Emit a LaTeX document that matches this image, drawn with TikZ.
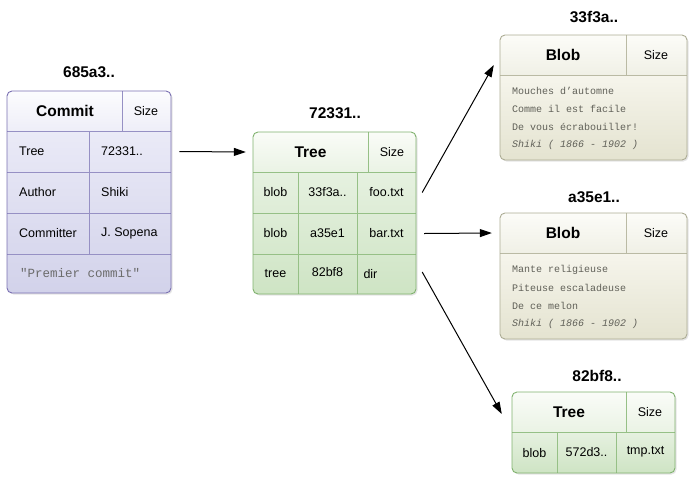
\documentclass[tikz,border=0pt]{standalone}
\usepackage{fontspec}
\setmainfont{Liberation Sans}
\setmonofont{Liberation Mono}
\definecolor{commitedge}{RGB}{122,112,178}
\definecolor{commitgrid}{RGB}{150,144,196}
\definecolor{commithdA}{RGB}{252,252,254}
\definecolor{commithdB}{RGB}{238,238,248}
\definecolor{commitbdA}{RGB}{234,234,247}
\definecolor{commitbdB}{RGB}{210,210,234}
\definecolor{treeedge}{RGB}{128,178,110}
\definecolor{treegrid}{RGB}{150,192,134}
\definecolor{treehdA}{RGB}{250,252,248}
\definecolor{treehdB}{RGB}{234,243,228}
\definecolor{treebdA}{RGB}{230,241,224}
\definecolor{treebdB}{RGB}{206,228,196}
\definecolor{blobedge}{RGB}{172,172,148}
\definecolor{blobgrid}{RGB}{186,186,164}
\definecolor{blobhdA}{RGB}{252,252,248}
\definecolor{blobhdB}{RGB}{240,240,230}
\definecolor{blobbdA}{RGB}{246,245,236}
\definecolor{blobbdB}{RGB}{228,227,208}
\definecolor{poemgray}{RGB}{96,96,88}
\usepackage{tikz}
\usetikzlibrary{arrows.meta,calc}
\tikzset{
  hashlbl/.style={font=\fontsize{15.5}{17}\selectfont\bfseries, inner sep=0pt},
  headtxt/.style={font=\fontsize{15.5}{17}\selectfont\bfseries, inner sep=0pt},
  celltxt/.style={font=\fontsize{12.5}{14}\selectfont, inner sep=0pt},
  poem/.style={font=\ttfamily\fontsize{10}{12}\selectfont, text=poemgray, anchor=west, inner sep=0pt},
  link/.style={-{Triangle[length=12pt,width=8pt]}, line width=1pt},
  shadowbox/.style={fill=black!10, rounded corners=5pt},
  commitframe/.style={draw=commitedge, rounded corners=5pt, line width=0.9pt},
  treeframe/.style={draw=treeedge, rounded corners=5pt, line width=0.9pt},
  blobframe/.style={draw=blobedge, rounded corners=5pt, line width=0.9pt},
}

\begin{document}
\begin{tikzpicture}[x=1pt,y=-1pt]
        \useasboundingbox (0,0) rectangle (693,483);
        % commit 685a3..
        \fill[shadowbox] (8.5,92.5) rectangle (172.5,294.5);
        \begin{scope}
          \clip[rounded corners=5pt] (7,91) rectangle (171,293);
          \shade[top color=commithdA, bottom color=commithdB] (7,91) rectangle (171,131);
          \shade[top color=commitbdA, bottom color=commitbdB] (7,131) rectangle (171,293);
        \end{scope}
        \draw[commitgrid] (7,131) -- (171,131) (7,172) -- (171,172) (7,213) -- (171,213) (7,254) -- (171,254);
        \draw[commitgrid] (122,91) -- (122,131) (89,131) -- (89,254);
        \draw[commitframe] (7,91) rectangle (171,293);
        \node[hashlbl] (commitid) at (89,72) {685a3..};
        \node[headtxt] (chead) at (65,111) {Commit};
        \node[celltxt] (csize) at (146,111) {Size};
        \node[celltxt,anchor=west] (ctree) at (19,151.5) {Tree};
        \node[celltxt,anchor=west] (cauthor) at (19,192.5) {Author};
        \node[celltxt,anchor=west] (ccommitter) at (19,233.5) {Committer};
        \node[celltxt,anchor=west,text width=70pt,align=left] (ctreeval) at (101,151.5) {72331..};
        \node[celltxt,anchor=west] (cauthorval) at (101,192.5) {Shiki};
        \node[celltxt,anchor=west] (ccommitterval) at (101,233.5) {J. Sopena};
        \node[poem,font=\ttfamily\fontsize{12.5}{14}\selectfont,text=black!58] (cmsg) at (20,273) {"Premier commit"};
        % tree 72331..
        \fill[shadowbox] (254.5,133.5) rectangle (417.5,295.5);
        \begin{scope}
          \clip[rounded corners=5pt] (253,132) rectangle (416,294);
          \shade[top color=treehdA, bottom color=treehdB] (253,132) rectangle (416,172);
          \shade[top color=treebdA, bottom color=treebdB] (253,172) rectangle (416,294);
        \end{scope}
        \draw[treegrid] (253,172) -- (416,172) (253,213) -- (416,213) (253,254) -- (416,254);
        \draw[treegrid] (368,132) -- (368,172) (298,172) -- (298,294) (357,172) -- (357,294);
        \draw[treeframe] (253,132) rectangle (416,294);
        \node[hashlbl] (treeid) at (335,113) {72331..};
        \node[headtxt,minimum width=115pt,minimum height=40pt] (thead) at (310.5,152) {Tree};
        \node[celltxt] (tsize) at (392,152) {Size};
        \node[celltxt] (r1c1) at (275.5,192.5) {blob};
        \node[celltxt] (r1c2) at (327.5,192) {33f3a..};
        \node[celltxt,minimum width=59pt] (r1c3) at (386.5,192.5) {foo.txt};
        \node[celltxt] (r2c1) at (275.5,233.5) {blob};
        \node[celltxt] (r2c2) at (327.5,233) {a35e1};
        \node[celltxt,minimum width=59pt] (r2c3) at (386.5,233.5) {bar.txt};
        \node[celltxt] (r3c1) at (275.5,274) {tree};
        \node[celltxt] (r3c2) at (327.5,272) {82bf8};
        \node[celltxt,minimum width=59pt,text width=46pt,align=left] (r3c3) at (386.5,274) {dir};
        % blob 33f3a..
        \fill[shadowbox] (501.5,36.5) rectangle (688.5,161.5);
        \begin{scope}
          \clip[rounded corners=5pt] (500,35) rectangle (687,160);
          \shade[top color=blobhdA, bottom color=blobhdB] (500,35) rectangle (687,75);
          \shade[top color=blobbdA, bottom color=blobbdB] (500,75) rectangle (687,160);
        \end{scope}
        \draw[blobgrid] (500,75) -- (687,75) (626,35) -- (626,75);
        \draw[blobframe] (500,35) rectangle (687,160);
        \node[hashlbl] (blobaid) at (594,17) {33f3a..};
        \node[headtxt,minimum width=126pt,minimum height=40pt] (b1head) at (563,55) {Blob};
        \node[celltxt] (b1size) at (656,55) {Size};
        \node[poem] (b1l1) at (512,91) {Mouches d’automne};
        \node[poem] (b1l2) at (512,109) {Comme il est facile};
        \node[poem] (b1l3) at (512,127) {De vous écrabouiller!};
        \node[poem,font=\ttfamily\itshape\fontsize{10}{12}\selectfont] (b1l4) at (512,145) {Shiki ( 1866 - 1902 )};
        % blob a35e1..
        \fill[shadowbox] (501.5,214.5) rectangle (688.5,340.5);
        \begin{scope}
          \clip[rounded corners=5pt] (500,213) rectangle (687,339);
          \shade[top color=blobhdA, bottom color=blobhdB] (500,213) rectangle (687,253);
          \shade[top color=blobbdA, bottom color=blobbdB] (500,253) rectangle (687,339);
        \end{scope}
        \draw[blobgrid] (500,253) -- (687,253) (626,213) -- (626,253);
        \draw[blobframe] (500,213) rectangle (687,339);
        \node[hashlbl] (blobbid) at (594,197) {a35e1..};
        \node[headtxt,minimum width=126pt,minimum height=40pt] (b2head) at (563,233) {Blob};
        \node[celltxt] (b2size) at (656,233) {Size};
        \node[poem] (b2l1) at (512,270) {Mante religieuse};
        \node[poem] (b2l2) at (512,288) {Piteuse escaladeuse};
        \node[poem] (b2l3) at (512,306) {De ce melon};
        \node[poem,font=\ttfamily\itshape\fontsize{10}{12}\selectfont] (b2l4) at (512,324) {Shiki ( 1866 - 1902 )};
        % tree 82bf8..
        \fill[shadowbox] (513.5,393.5) rectangle (676.5,474.5);
        \begin{scope}
          \clip[rounded corners=5pt] (512,392) rectangle (675,473);
          \shade[top color=treehdA, bottom color=treehdB] (512,392) rectangle (675,432);
          \shade[top color=treebdA, bottom color=treebdB] (512,432) rectangle (675,473);
        \end{scope}
        \draw[treegrid] (512,432) -- (675,432) (626,392) -- (626,432) (557,432) -- (557,473) (616,432) -- (616,473);
        \draw[treeframe] (512,392) rectangle (675,473);
        \node[hashlbl] (subtreeid) at (597,376) {82bf8..};
        \node[headtxt,minimum width=114pt,minimum height=40pt] (t2head) at (569,412) {Tree};
        \node[celltxt] (t2size) at (650,412) {Size};
        \node[celltxt] (t2c1) at (534.5,453) {blob};
        \node[celltxt] (t2c2) at (586.5,452) {572d3..};
        \node[celltxt] (t2c3) at (645.5,452) {tmp.txt};
        % links
        \draw[link] ($(ctreeval.east)+(8,0)$) -- ($(thead.west)+(-7,0)$);
        \draw[link] ($(r1c3.east)+(6,0)$) -- ($(b1head.west)+(-6,10)$);
        \draw[link] ($(r2c3.east)+(8,0)$) -- ($(b2head.west)+(-8,0)$);
        \draw[link] ($(r3c3.east)+(6,-2)$) -- ($(t2head.west)+(-10,2)$);
\end{tikzpicture}
\end{document}
